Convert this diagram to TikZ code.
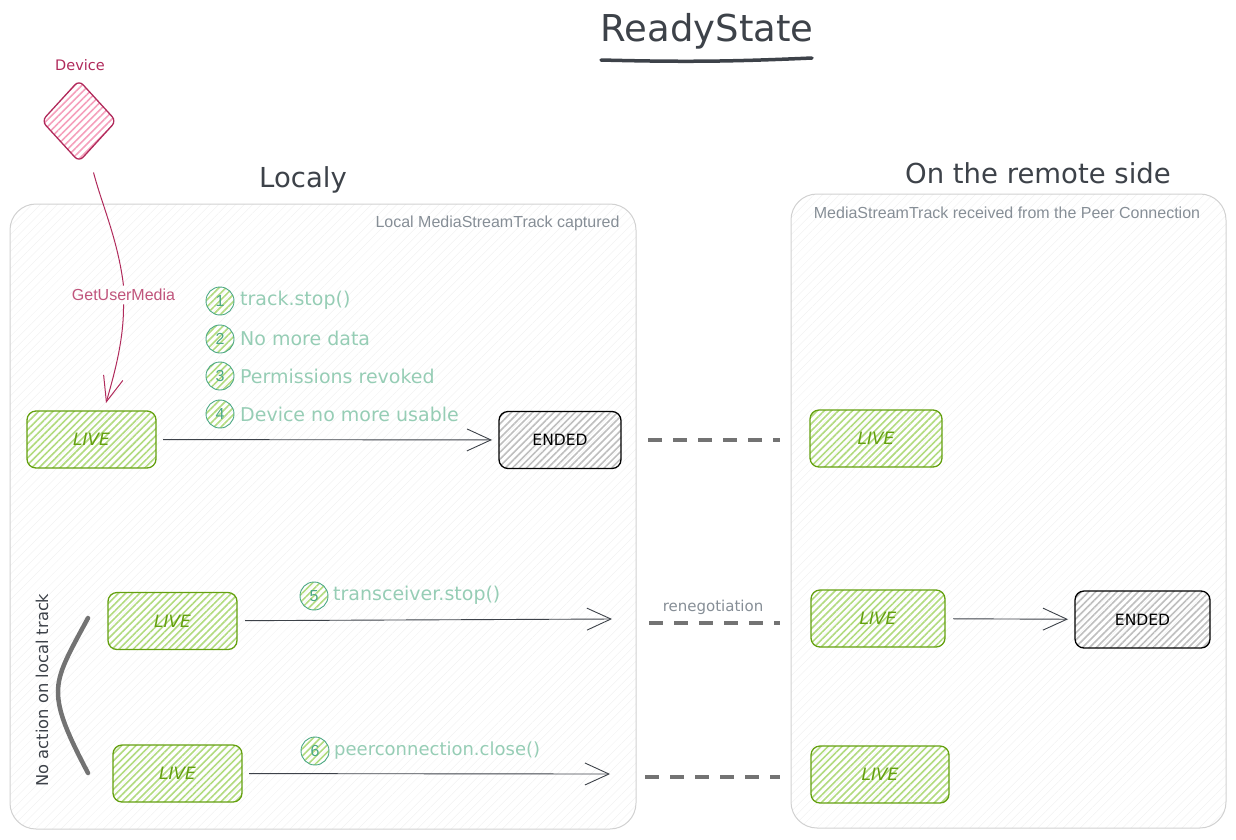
\documentclass[tikz,border=0pt]{standalone}
\usepackage{fontspec}
\setmainfont{DejaVu Sans}
\newfontfamily\labelfont{Liberation Sans}
\usetikzlibrary{arrows.meta,patterns.meta,shapes.geometric}

\definecolor{inkdark}{HTML}{3D4249}
\definecolor{devicered}{HTML}{B02A5B}
\definecolor{devicefill}{HTML}{F5A0BC}
\definecolor{livegreen}{HTML}{64A00F}
\definecolor{livefill}{HTML}{B2DB7F}
\definecolor{mintgreen}{HTML}{96CDB5}
\definecolor{badgegreen}{HTML}{4BA884}
\definecolor{panelgrey}{HTML}{868E96}

\tikzset{
  hand/.style={font=\fontsize{#1}{#1}\selectfont},
  hatched/.style={pattern={Lines[angle=45,distance=5pt,line width=1.6pt]},pattern color=#1},
  panelbox/.style={draw=black!18,line width=1pt,rounded corners=26pt,fill=white,
    pattern={Lines[angle=45,distance=6pt,line width=.5pt]},pattern color=black!5,outer sep=0pt,inner sep=0pt},
  statebox/.style={line width=1.3pt,rounded corners=9pt,outer sep=0pt},
  livebox/.style={statebox,draw=livegreen,text=livegreen,hatched=livefill,font=\fontsize{17}{17}\selectfont\itshape},
  endedbox/.style={statebox,draw=black,text=black,hatched=black!25,hand=15.5},
  badge/.style={circle,draw=badgegreen,text=badgegreen,line width=.9pt,minimum size=28pt,inner sep=0pt,
    hatched=livefill,font=\labelfont\fontsize{16}{16}\selectfont},
  reason/.style={anchor=west,text=mintgreen,hand=19,inner sep=0pt},
  handarrow/.style={draw=inkdark,line width=.9pt,-{Straight Barb[length=24pt,width=22pt,line width=.9pt]}},
  linkdash/.style={draw=black!55,line width=3.5pt,dash pattern=on 14pt off 11pt},
  paneltitle/.style={text=inkdark,hand=27.5},
  panelnote/.style={text=panelgrey,font=\labelfont\fontsize{16}{16}\selectfont}
}

\begin{document}
\begin{tikzpicture}[x=1pt,y=-1pt]
\useasboundingbox (0,0) rectangle (1236,839);

% panels
\node[panelbox,minimum width=626pt,minimum height=625pt] (local) at (323,516.5) {};
\node[panelbox,minimum width=435pt,minimum height=634pt] (remote) at (1008.5,511) {};
\node[panelnote,anchor=east] (localnote) at (623,223.5) {Local MediaStreamTrack captured};
\node[panelnote] (remotenote) at (1007,213) {MediaStreamTrack received from the Peer Connection};

% titles
\node[text=inkdark,hand=37] (title) at (707,31) {ReadyState};
\coordinate (titleleft) at (601,60);
\coordinate (titleright) at (812,58);
\draw[inkdark,line width=3.5pt,line cap=round] (titleleft) to[bend right=2] (titleright);
\node[paneltitle] (localy) at (303,180) {Localy};
\node[paneltitle] (remotetitle) at (1038,173) {On the remote side};

% device
\node[text=devicered,hand=14.5] (devicelabel) at (80,65) {Device};
\node[diamond,draw=devicered,line width=1.3pt,rounded corners=6pt,minimum width=75pt,minimum height=82pt,
  inner sep=0pt,hatched=devicefill] (device) at (79,121) {};

% first row
\node[livebox,minimum width=129pt,minimum height=57pt] (live1) at (91.5,439.5) {LIVE};
\node[endedbox,minimum width=122pt,minimum height=57pt] (ended1) at (560,440) {ENDED};
\node[livebox,minimum width=132pt,minimum height=57pt] (remotelive1) at (876,438.5) {LIVE};
\draw[handarrow,shorten <=7pt,shorten >=7pt] (live1) -- (ended1);
\draw[linkdash,shorten <=27pt,shorten >=96pt] (ended1) -- (ended1 -| remotelive1);

\node[text=devicered!80,font=\labelfont\fontsize{16}{16}\selectfont] (getuser) at (123.5,295) {GetUserMedia};
\draw[devicered,line width=1pt,shorten <=10pt] (device.south) ++(12,0) coordinate (devicefoot)
  .. controls (102,205) and (118,240) .. (getuser.north);
\draw[devicered,line width=1pt,-{Straight Barb[length=25pt,width=20pt,line width=1pt]}]
  (getuser.south) .. controls (124,340) and (114,375) .. ([xshift=14.5pt,yshift=8pt]live1.north);

\node[badge] (badge1) at (220,301) {1};
\node[badge] (badge2) at (220,339) {2};
\node[badge] (badge3) at (220,376) {3};
\node[badge] (badge4) at (220,414) {4};
\node[reason] (reason1) at (240,300) {track.stop()};
\node[reason] (reason2) at (240,338) {No more data};
\node[reason] (reason3) at (240,376) {Permissions revoked};
\node[reason] (reason4) at (240,414) {Device no more usable};

% second row
\node[livebox,minimum width=129pt,minimum height=57pt] (live2) at (172.5,621) {LIVE};
\coordinate (stop2) at (612,619);
\coordinate (dash2) at (649,623);
\node[livebox,minimum width=134pt,minimum height=57pt] (remotelive2) at (878,618.5) {LIVE};
\node[endedbox,minimum width=135pt,minimum height=57pt] (ended2) at (1142.5,619.5) {ENDED};
\draw[handarrow,shorten <=8pt] (live2) -- (stop2);
\draw[linkdash,shorten >=31pt] (dash2) -- (remotelive2.west |- dash2);
\draw[handarrow,shorten <=8pt,shorten >=7pt] (remotelive2) -- (ended2);
\node[text=panelgrey,hand=15] (renego) at (713,607) {renegotiation};
\node[badge] (badge5) at (314,596) {5};
\node[reason] (reason5) at (333,595) {transceiver.stop()};

% third row
\node[livebox,minimum width=129pt,minimum height=57pt] (live3) at (177.5,773.5) {LIVE};
\coordinate (stop3) at (610,774);
\coordinate (dash3) at (645,777);
\node[livebox,minimum width=138pt,minimum height=57pt] (remotelive3) at (880,774.5) {LIVE};
\draw[handarrow,shorten <=7pt] (live3) -- (stop3);
\draw[linkdash,shorten >=31pt] (dash3) -- (remotelive3.west |- dash3);
\node[badge] (badge6) at (315,751) {6};
\node[reason,hand=18] (reason6) at (334,751) {peerconnection.close()};

% no action bracket
\coordinate (bracketup) at (88,618);
\coordinate (bracketdown) at (88,773);
\draw[black!55,line width=4.5pt,line cap=round] (bracketup) .. controls (68,655) and (58,672) .. (58,692)
  .. controls (58,712) and (68,735) .. (bracketdown);
\node[text=inkdark,hand=16.3,rotate=90] (noaction) at (42,690) {No action on local track};

\end{tikzpicture}
\end{document}
